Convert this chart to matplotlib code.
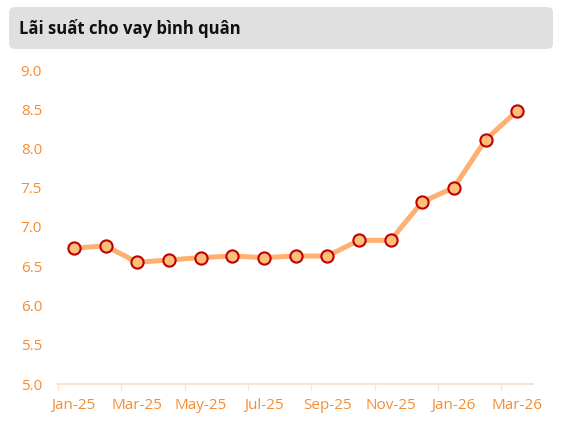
import matplotlib.pyplot as plt
from matplotlib.patches import FancyBboxPatch

# monthly average lending rate
months = ["Jan-25", "Feb-25", "Mar-25", "Apr-25", "May-25", "Jun-25", "Jul-25", "Aug-25",
          "Sep-25", "Oct-25", "Nov-25", "Dec-25", "Jan-26", "Feb-26", "Mar-26"]
rates = [6.73, 6.76, 6.55, 6.58, 6.61, 6.63, 6.61, 6.63,
         6.63, 6.83, 6.83, 7.32, 7.50, 8.11, 8.48]
yticks = [5.0, 5.5, 6.0, 6.5, 7.0, 7.5, 8.0, 8.5, 9.0]
title = "Lãi suất cho vay bình quân"

orange = "#f58d33"
plt.rcParams['font.family'] = ['Open Sans', 'DejaVu Sans']

W, H = 570, 447
fig = plt.figure(figsize=(W / 100, H / 100), dpi=100)

# title box
box = FancyBboxPatch((9 / W, 1 - 49 / H), 544 / W, 42 / H,
                     boxstyle="round,pad=0,rounding_size=0.012",
                     transform=fig.transFigure, facecolor="#e0e0e0", edgecolor="none")
fig.patches.append(box)
fig.text(19 / W, 1 - 28.5 / H, title, fontsize=12, fontweight="bold",
         color="#111111", va="center", ha="left")

ax = fig.add_axes([58 / W, 63 / H, 475 / W, 314 / H])
x = list(range(len(months)))
ax.plot(x, rates, color="#fdb071", linewidth=3.6, solid_capstyle="round", zorder=2,
        clip_on=False)
ax.plot(x, rates, linestyle="none", marker="o", markersize=8.8,
        markerfacecolor="#ffbf7a", markeredgecolor="#c00000", markeredgewidth=1.5,
        zorder=3, clip_on=False)

ax.set_xlim(-0.5, len(months) - 0.5)
ax.set_ylim(5.0, 9.0)
ax.set_yticks(yticks)
ax.set_yticklabels([f"{v:.1f}" for v in yticks])

ax.set_xticks(x[::2])
ax.set_xticklabels(months[::2])
ax.set_xticks([i - 0.5 for i in x[::2]], minor=True)
ax.tick_params(axis="x", which="major", length=0, pad=10, labelsize=11, labelcolor=orange)
ax.tick_params(axis="x", which="minor", length=4, width=1, color="#fbe3d3")
ax.tick_params(axis="y", length=0, pad=11.5, labelsize=11, labelcolor=orange)

for s in ["top", "right", "left"]:
    ax.spines[s].set_visible(False)
ax.spines["bottom"].set_color("#fbe3d3")
ax.spines["bottom"].set_linewidth(1.5)

fig.savefig("out.png", dpi=100)
